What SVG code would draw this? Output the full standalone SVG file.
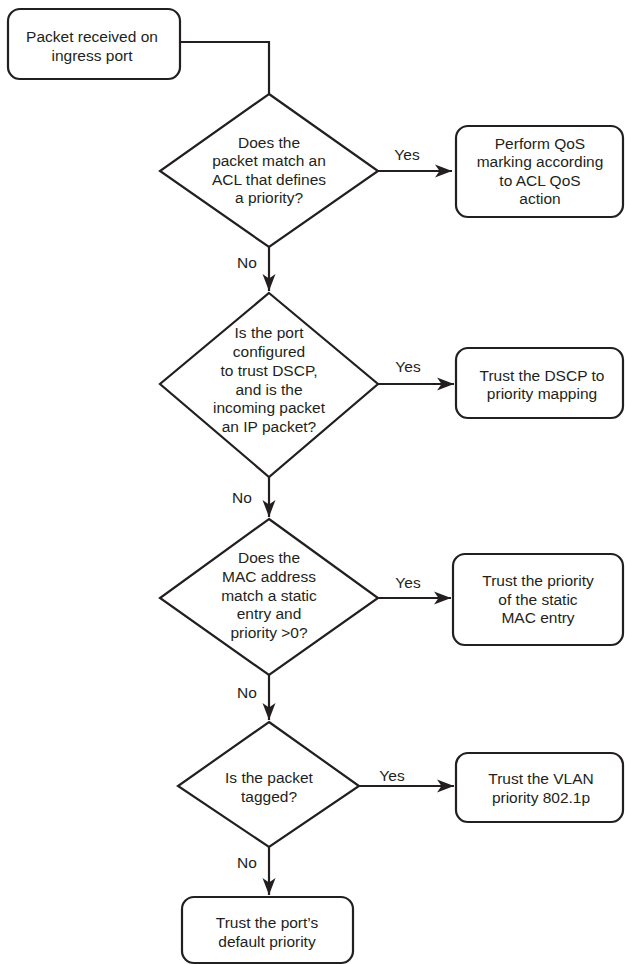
<svg xmlns="http://www.w3.org/2000/svg" width="625" height="965" viewBox="0 0 625 965">
<defs>
<style>
.box{fill:#fff;stroke:#231f20;stroke-width:2.2}
.dia{fill:#fff;stroke:#231f20;stroke-width:2.2;stroke-linejoin:miter}
.con{fill:none;stroke:#231f20;stroke-width:2.2}
text{font-family:"Liberation Sans",Arial,sans-serif;font-size:15.5px;fill:#231f20;text-anchor:middle}
</style>
<marker id="arr" markerUnits="userSpaceOnUse" viewBox="-18 -7 19 14" refX="0" refY="0" markerWidth="19" markerHeight="14" orient="auto">
<path d="M0,0 L-17,-6.5 L-12.5,0 L-17,6.5 Z" fill="#231f20"/>
</marker>
</defs>
<rect width="625" height="965" fill="#fff"/>
<g id="connectors">
<path class="con" d="M180,42 H269 V94"/>
<path class="con" d="M378,171 H452" marker-end="url(#arr)"/>
<path class="con" d="M269,247 V291" marker-end="url(#arr)"/>
<path class="con" d="M378,384 H454" marker-end="url(#arr)"/>
<path class="con" d="M269,477 V517" marker-end="url(#arr)"/>
<path class="con" d="M378,598 H451" marker-end="url(#arr)"/>
<path class="con" d="M269,675 V720" marker-end="url(#arr)"/>
<path class="con" d="M359,786 H454" marker-end="url(#arr)"/>
<path class="con" d="M269,847 V895" marker-end="url(#arr)"/>
<text x="407" y="160">Yes</text>
<text x="247" y="267.5">No</text>
<text x="408" y="372">Yes</text>
<text x="242" y="503">No</text>
<text x="408" y="588">Yes</text>
<text x="247" y="698">No</text>
<text x="392" y="781">Yes</text>
<text x="247" y="868">No</text>
</g>
<g id="start">
<rect class="box" x="8" y="9" width="172" height="70" rx="12"/>
<text x="92" y="41.5">Packet received on</text>
<text x="92" y="60.5">ingress port</text>
</g>
<g id="q-acl">
<polygon class="dia" points="269,94 378,171 269,247 160,171"/>
<text x="269" y="147.5">Does the</text>
<text x="269" y="166">packet match an</text>
<text x="269" y="184.5">ACL that defines</text>
<text x="269" y="203">a priority?</text>
</g>
<g id="acl-action">
<rect class="box" x="456" y="126" width="167" height="91" rx="12"/>
<text x="540" y="148.5">Perform QoS</text>
<text x="540" y="167">marking according</text>
<text x="540" y="185.5">to ACL QoS</text>
<text x="540" y="204">action</text>
</g>
<g id="q-dscp">
<polygon class="dia" points="269,293 378,384 269,477 160,384"/>
<text x="269" y="338">Is the port</text>
<text x="269" y="357">configured</text>
<text x="269" y="376">to trust DSCP,</text>
<text x="269" y="395">and is the</text>
<text x="269" y="413">incoming packet</text>
<text x="269" y="432">an IP packet?</text>
</g>
<g id="dscp-action">
<rect class="box" x="456" y="348" width="167" height="70" rx="12"/>
<text x="542" y="380.5">Trust the DSCP to</text>
<text x="542" y="398.5">priority mapping</text>
</g>
<g id="q-mac">
<polygon class="dia" points="269,519 378,598 269,675 160,598"/>
<text x="269" y="563">Does the</text>
<text x="269" y="582">MAC address</text>
<text x="269" y="601">match a static</text>
<text x="269" y="619">entry and</text>
<text x="269" y="638">priority &gt;0?</text>
</g>
<g id="mac-action">
<rect class="box" x="453" y="554" width="170" height="91" rx="12"/>
<text x="538" y="586">Trust the priority</text>
<text x="538" y="605">of the static</text>
<text x="538" y="623">MAC entry</text>
</g>
<g id="q-tagged">
<polygon class="dia" points="269,722 359,786 269,847 178,786"/>
<text x="269" y="783">Is the packet</text>
<text x="269" y="802">tagged?</text>
</g>
<g id="vlan-action">
<rect class="box" x="456" y="753" width="167" height="69" rx="12"/>
<text x="541" y="784">Trust the VLAN</text>
<text x="541" y="803">priority 802.1p</text>
</g>
<g id="default-action">
<rect class="box" x="182" y="897" width="171" height="66" rx="12"/>
<text x="267" y="928">Trust the port’s</text>
<text x="267" y="947">default priority</text>
</g>
</svg>
